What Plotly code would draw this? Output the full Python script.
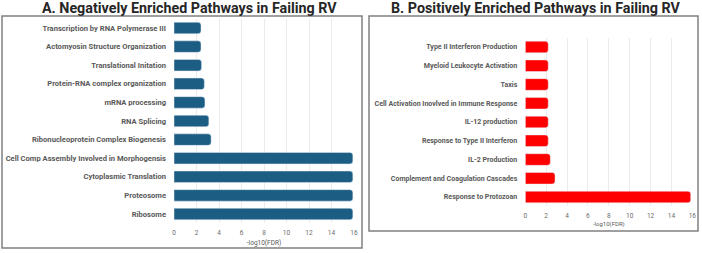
import plotly.graph_objects as go

W, H = 702, 253

cats_a = ["Transcription by RNA Polymerase III", "Actomyosin Structure Organization",
          "Translational Initation", "Protein-RNA complex organization", "mRNA processing",
          "RNA Splicing", "Ribonucleoprotein Complex Biogenesis",
          "Cell Comp Assembly Involved in Morphogensis", "Cytoplasmic Translation",
          "Proteosome", "Ribosome"]
vals_a = [2.4, 2.4, 2.45, 2.7, 2.75, 3.1, 3.3, 15.9, 15.9, 15.9, 15.9]

cats_b = ["Type II Interferon Production", "Myeloid Leukocyte Activation", "Taxis",
          "Cell Activation Inovlved in Immune Response", "IL-12 production",
          "Response to Type II Interferon", "IL-2 Production",
          "Complement and Coagulation Cascades", "Response to Protozoan"]
vals_b = [2.2, 2.2, 2.2, 2.2, 2.2, 2.2, 2.4, 2.85, 15.85]

ticks = [0, 2, 4, 6, 8, 10, 12, 14, 16]
title_a = "A. Negatively Enriched Pathways in Failing RV"
title_b = "B. Positively Enriched Pathways in Failing RV"
xtitle = "-log10(FDR)"

def px(x):
    return x / W

def py(y):
    return 1 - y / H

FONT = "Roboto"
GRAY = "#595959"

fig = go.Figure()
fig.add_trace(go.Bar(y=cats_a, x=vals_a, orientation="h", marker_color="#1c5d83",
                     width=0.62, xaxis="x", yaxis="y", showlegend=False))
fig.add_trace(go.Bar(y=cats_b, x=vals_b, orientation="h", marker_color="#ff0000",
                     width=0.62, xaxis="x2", yaxis="y2", showlegend=False))

axis_common = dict(range=[0, 16], tickvals=ticks, showgrid=True, gridcolor="#ebebeb",
                   gridwidth=1, zeroline=False, showline=False, fixedrange=True,
                   tickfont=dict(family=FONT, size=6.5, color="#6a6a6a"),
                   ticks="", ticklabelstandoff=4, automargin=False,
                   ticklabeloverflow="allow")

fig.update_layout(
    width=W, height=H, margin=dict(l=0, r=0, t=0, b=0, autoexpand=False),
    paper_bgcolor="white", plot_bgcolor="white", barcornerradius=3,
    xaxis=dict(domain=[px(174), px(354)], anchor="y",
               title=dict(text=xtitle, font=dict(family=FONT, size=6.5, color=GRAY), standoff=4),
               **axis_common),
    yaxis=dict(domain=[py(223.3), py(18.7)], anchor="x", range=[10.5, -0.5],
               categoryorder="array", categoryarray=cats_a, showgrid=False,
               ticks="", ticklabelstandoff=7, automargin=False, fixedrange=True,
               tickfont=dict(family=FONT, size=7.6, color=GRAY, weight="bold")),
    xaxis2=dict(domain=[px(525.3), px(692.3)], anchor="y2",
                title=dict(text=xtitle, font=dict(family=FONT, size=6, color=GRAY), standoff=2),
                **axis_common),
    yaxis2=dict(domain=[py(206.4), py(37.6)], anchor="x2", range=[8.5, -0.5],
                categoryorder="array", categoryarray=cats_b, showgrid=False,
                ticks="", ticklabelstandoff=7, automargin=False, fixedrange=True,
                tickfont=dict(family=FONT, size=7.05, color=GRAY, weight="bold")),
    shapes=[
        dict(type="rect", xref="paper", yref="paper", x0=px(2), x1=px(362), y0=py(248), y1=py(16),
             line=dict(color="#808080", width=1.5)),
        dict(type="rect", xref="paper", yref="paper", x0=px(369), x1=px(698), y0=py(231), y1=py(16),
             line=dict(color="#808080", width=1.5)),
    ],
    annotations=[
        dict(text=title_a, xref="paper", yref="paper", x=px(189), y=py(7.5), showarrow=False,
             font=dict(family=FONT, size=14.3, color="#262626", weight="bold"),
             xanchor="center", yanchor="middle"),
        dict(text=title_b, xref="paper", yref="paper", x=px(536), y=py(7.5), showarrow=False,
             font=dict(family=FONT, size=14.3, color="#262626", weight="bold"),
             xanchor="center", yanchor="middle"),
    ],
)

fig.write_html("out.html", config={"displayModeBar": False},
               post_script="document.body.style.margin='0';document.body.style.overflow='hidden';")
